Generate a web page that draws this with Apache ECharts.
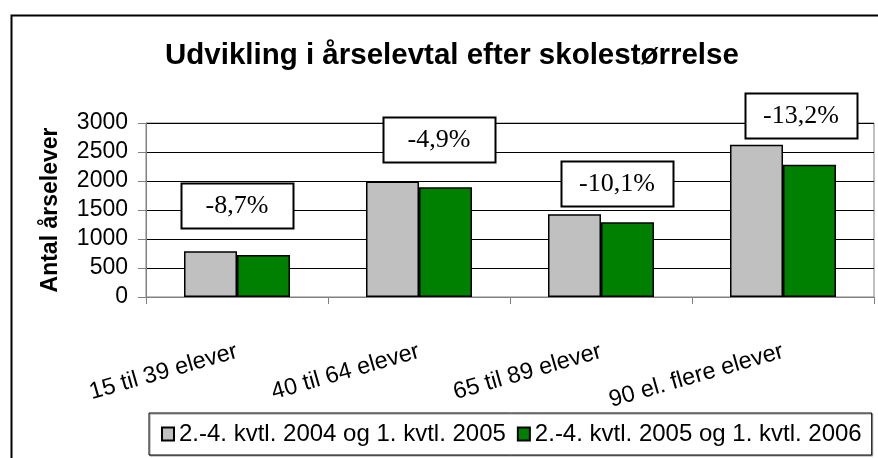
<!DOCTYPE html>
<html>
<head>
<meta charset="utf-8">
<script src="https://cdn.jsdelivr.net/npm/echarts@6/dist/echarts.min.js"></script>
<style>
  html, body { margin: 0; padding: 0; background: #fff; }
  #chart { width: 878px; height: 458px; }
</style>
</head>
<body>
<div id="chart"></div>
<script>
// kategorier og værdier
const categories = ['15 til 39 elever', '40 til 64 elever', '65 til 89 elever', '90 el. flere elever'];
const period1 = [790, 1990, 1425, 2625];
const period2 = [722, 1893, 1290, 2280];
const seriesNames = ['2.-4. kvtl. 2004 og 1. kvtl. 2005', '2.-4. kvtl. 2005 og 1. kvtl. 2006'];
const changeLabels = ['-8,7%', '-4,9%', '-10,1%', '-13,2%'];
const yTicks = [0, 500, 1000, 1500, 2000, 2500, 3000];

// placering af tekstboksene (y i aksens enheder, forskydning i px)
const noteY = [1570, 2710, 1950, 3125];
const noteShift = [0, 20, 16, 18];

const myChart = echarts.init(document.getElementById('chart'));

const option = {
  backgroundColor: '#fff',
  animation: false,
  title: {
    text: 'Udvikling i årselevtal efter skolestørrelse',
    left: 160,
    top: 36,
    textStyle: {
      fontFamily: 'Liberation Sans, Arial',
      fontSize: 29.5,
      fontWeight: 'bold',
      color: '#000'
    }
  },
  grid: {
    left: 146,
    right: 4,
    top: 123,
    bottom: 161,
    show: true,
    borderColor: '#808080',
    borderWidth: 1
  },
  legend: {
    data: seriesNames,
    left: 149,
    top: 413,
    padding: [9, 10, 9, 12],
    itemWidth: 12,
    itemHeight: 13,
    itemGap: 11,
    borderColor: '#000',
    borderWidth: 1,
    backgroundColor: '#fff',
    shadowColor: '#999',
    shadowOffsetX: 1,
    shadowOffsetY: 1,
    icon: 'rect',
    textStyle: {
      fontFamily: 'Liberation Sans, Arial',
      fontSize: 24,
      color: '#000'
    }
  },
  xAxis: {
    type: 'category',
    data: categories,
    axisLine: { lineStyle: { color: '#808080', width: 1 } },
    axisTick: { show: true, length: 7, interval: 0, lineStyle: { color: '#808080' } },
    axisLabel: {
      interval: 0,
      rotate: 16,
      margin: 54,
      fontFamily: 'Liberation Sans, Arial',
      fontSize: 23.5,
      color: '#000'
    }
  },
  yAxis: {
    type: 'value',
    min: yTicks[0],
    max: yTicks[yTicks.length - 1],
    interval: 500,
    name: 'Antal årselever',
    nameLocation: 'middle',
    nameGap: 84,
    nameTextStyle: {
      fontFamily: 'Liberation Sans, Arial',
      fontSize: 23,
      fontWeight: 'bold',
      color: '#000'
    },
    axisLine: { show: true, lineStyle: { color: '#808080', width: 1 } },
    axisTick: { show: true, length: 8, lineStyle: { color: '#808080' } },
    axisLabel: {
      margin: 18,
      formatter: v => String(v),
      fontFamily: 'Liberation Sans, Arial',
      fontSize: 23,
      color: '#000'
    },
    splitLine: { lineStyle: { color: '#000', width: 1 } }
  },
  series: [
    {
      name: seriesNames[0],
      type: 'bar',
      data: period1,
      barWidth: 53,
      barGap: '0%',
      itemStyle: { color: '#c0c0c0', borderColor: '#000', borderWidth: 1.5 }
    },
    {
      name: seriesNames[1],
      type: 'bar',
      data: period2,
      barWidth: 53,
      barGap: '0%',
      itemStyle: { color: '#008000', borderColor: '#000', borderWidth: 1.5 }
    },
    {
      // tekstbokse med procentvis ændring
      type: 'custom',
      silent: true,
      clip: false,
      z: 5,
      data: changeLabels.map((t, i) => [i, noteY[i]]),
      renderItem: (params, api) => {
        const i = params.dataIndex;
        const pt = api.coord([api.value(0), api.value(1)]);
        const cx = pt[0] + noteShift[i];
        const cy = pt[1];
        const w = 112, h = 45;
        return {
          type: 'group',
          children: [
            {
              type: 'rect',
              shape: { x: Math.round(cx - w / 2) + 0.5, y: Math.round(cy - h / 2) + 0.5, width: w, height: h },
              style: { fill: '#fff', stroke: '#000', lineWidth: 2 }
            },
            {
              type: 'text',
              x: cx,
              y: cy,
              style: {
                text: changeLabels[i],
                fontFamily: 'Liberation Serif, Times New Roman',
                fontSize: 26,
                fill: '#000',
                align: 'center',
                verticalAlign: 'middle'
              }
            }
          ]
        };
      }
    }
  ],
  graphic: [
    {
      type: 'rect',
      left: 9,
      top: 13,
      shape: { width: 880, height: 460 },
      style: { fill: null, stroke: '#000', lineWidth: 2 },
      silent: true
    }
  ]
};

myChart.setOption(option);
</script>
</body>
</html>
